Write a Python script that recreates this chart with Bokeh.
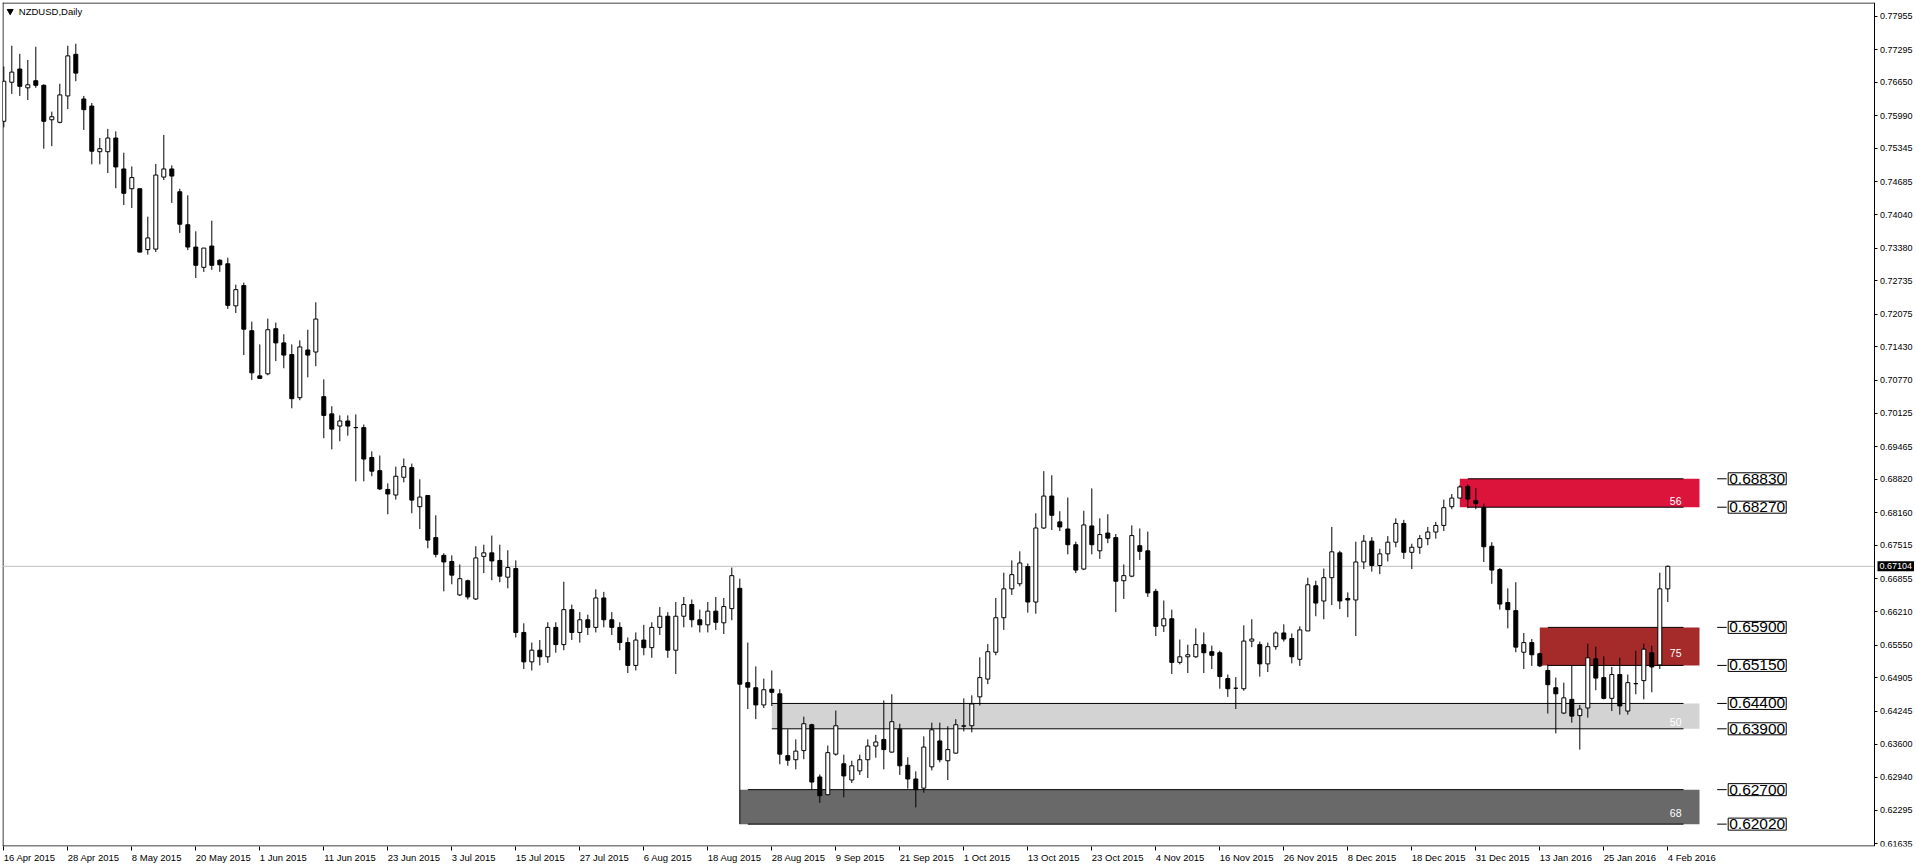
from bokeh.plotting import figure
from bokeh.models import Range1d, FixedTicker, PrintfTickFormatter, ColumnDataSource, LinearAxis, Label
from bokeh.embed import file_html
from bokeh.resources import INLINE
from bokeh.core.properties import value

# ---------------- data (NZDUSD daily, 16 Apr 2015 .. 4 Feb 2016) ----------------
opens = [0.7588, 0.7665, 0.7691, 0.7654, 0.7668, 0.7659, 0.7591, 0.7586, 0.7638, 0.7720,
         0.7632, 0.7618, 0.7528, 0.7528, 0.7555, 0.7494, 0.7455, 0.7455, 0.7335, 0.7336,
         0.7478, 0.7494, 0.7449, 0.7384, 0.7340, 0.7300, 0.7342, 0.7314, 0.7307, 0.7224,
         0.7264, 0.7175, 0.7086, 0.7090, 0.7179, 0.7151, 0.7128, 0.7043, 0.7137, 0.7133,
         0.7045, 0.7011, 0.6987, 0.6997, 0.6984, 0.6984, 0.6925, 0.6899, 0.6862, 0.6851,
         0.6886, 0.6905, 0.6828, 0.6850, 0.6767, 0.6732, 0.6720, 0.6654, 0.6682, 0.6646,
         0.6730, 0.6737, 0.6722, 0.6689, 0.6706, 0.6580, 0.6522, 0.6545, 0.6532, 0.6590,
         0.6556, 0.6625, 0.6580, 0.6605, 0.6590, 0.6648, 0.6605, 0.6590, 0.6560, 0.6515,
         0.6565, 0.6550, 0.6590, 0.6612, 0.6545, 0.6612, 0.6635, 0.6605, 0.6595, 0.6622,
         0.6599, 0.6627, 0.6667, 0.6481, 0.6471, 0.6437, 0.6468, 0.6459, 0.6337, 0.6329,
         0.6347, 0.6398, 0.6295, 0.6260, 0.6340, 0.6321, 0.6289, 0.6307, 0.6329, 0.6356,
         0.6369, 0.6344, 0.6389, 0.6318, 0.6291, 0.6273, 0.6315, 0.6366, 0.6327, 0.6342,
         0.6395, 0.6396, 0.6453, 0.6488, 0.6541, 0.6609, 0.6666, 0.6676, 0.6710, 0.6640,
         0.6786, 0.6849, 0.6798, 0.6784, 0.6753, 0.6705, 0.6790, 0.6741, 0.6776, 0.6767,
         0.6682, 0.6691, 0.6751, 0.6741, 0.6661, 0.6593, 0.6607, 0.6521, 0.6532, 0.6532,
         0.6556, 0.6542, 0.6540, 0.6489, 0.6470, 0.6469, 0.6563, 0.6556, 0.6518, 0.6552,
         0.6579, 0.6568, 0.6527, 0.6583, 0.6672, 0.6642, 0.6688, 0.6737, 0.6647, 0.6644,
         0.6719, 0.6760, 0.6712, 0.6735, 0.6758, 0.6795, 0.6738, 0.6748, 0.6765, 0.6778,
         0.6791, 0.6828, 0.6845, 0.6868, 0.6840, 0.6826, 0.6750, 0.6704, 0.6639, 0.6623,
         0.6541, 0.6560, 0.6538, 0.6505, 0.6471, 0.6421, 0.6448, 0.6416, 0.6431, 0.6528,
         0.6491, 0.6450, 0.6497, 0.6425, 0.6479, 0.6485, 0.6540, 0.6516, 0.6666]
highs = [0.7696, 0.7737, 0.7721, 0.7709, 0.7735, 0.7661, 0.7607, 0.7662, 0.7737, 0.7741,
         0.7638, 0.7624, 0.7555, 0.7573, 0.7568, 0.7526, 0.7499, 0.7455, 0.7400, 0.7504,
         0.7561, 0.7501, 0.7455, 0.7442, 0.7371, 0.7338, 0.7392, 0.7316, 0.7319, 0.7266,
         0.7270, 0.7193, 0.7148, 0.7199, 0.7191, 0.7168, 0.7148, 0.7156, 0.7177, 0.7231,
         0.7079, 0.7026, 0.7008, 0.7008, 0.7010, 0.6990, 0.6937, 0.6929, 0.6874, 0.6907,
         0.6923, 0.6913, 0.6882, 0.6850, 0.6811, 0.6736, 0.6732, 0.6714, 0.6684, 0.6750,
         0.6753, 0.6771, 0.6753, 0.6742, 0.6722, 0.6598, 0.6560, 0.6565, 0.6600, 0.6600,
         0.6680, 0.6635, 0.6620, 0.6615, 0.6665, 0.6660, 0.6620, 0.6600, 0.6570, 0.6580,
         0.6595, 0.6600, 0.6630, 0.6620, 0.6640, 0.6650, 0.6645, 0.6625, 0.6640, 0.6650,
         0.6648, 0.6708, 0.6686, 0.6560, 0.6513, 0.6489, 0.6505, 0.6468, 0.6389, 0.6369,
         0.6414, 0.6400, 0.6300, 0.6357, 0.6426, 0.6339, 0.6327, 0.6339, 0.6369, 0.6378,
         0.6446, 0.6458, 0.6400, 0.6334, 0.6306, 0.6375, 0.6402, 0.6402, 0.6395, 0.6409,
         0.6450, 0.6456, 0.6531, 0.6557, 0.6648, 0.6698, 0.6722, 0.6740, 0.6716, 0.6815,
         0.6898, 0.6890, 0.6819, 0.6846, 0.6759, 0.6820, 0.6864, 0.6805, 0.6813, 0.6774,
         0.6714, 0.6791, 0.6785, 0.6779, 0.6666, 0.6643, 0.6625, 0.6566, 0.6556, 0.6588,
         0.6580, 0.6554, 0.6544, 0.6497, 0.6492, 0.6594, 0.6606, 0.6562, 0.6560, 0.6582,
         0.6596, 0.6578, 0.6592, 0.6688, 0.6682, 0.6706, 0.6788, 0.6741, 0.6659, 0.6759,
         0.6772, 0.6768, 0.6745, 0.6770, 0.6805, 0.6802, 0.6755, 0.6772, 0.6788, 0.6798,
         0.6842, 0.6853, 0.6870, 0.6872, 0.6865, 0.6834, 0.6758, 0.6707, 0.6667, 0.6679,
         0.6579, 0.6567, 0.6540, 0.6517, 0.6491, 0.6481, 0.6515, 0.6437, 0.6558, 0.6552,
         0.6533, 0.6512, 0.6530, 0.6497, 0.6544, 0.6558, 0.6554, 0.6698, 0.6712]
lows = [0.7576, 0.7642, 0.7638, 0.7630, 0.7654, 0.7534, 0.7539, 0.7584, 0.7612, 0.7667,
        0.7571, 0.7503, 0.7503, 0.7486, 0.7456, 0.7423, 0.7417, 0.7330, 0.7325, 0.7330,
        0.7472, 0.7427, 0.7368, 0.7334, 0.7279, 0.7291, 0.7295, 0.7291, 0.7218, 0.7210,
        0.7127, 0.7078, 0.7080, 0.7087, 0.7115, 0.7101, 0.7022, 0.7038, 0.7083, 0.7105,
        0.6963, 0.6941, 0.6957, 0.6968, 0.6878, 0.6878, 0.6888, 0.6861, 0.6813, 0.6842,
        0.6876, 0.6815, 0.6784, 0.6746, 0.6728, 0.6661, 0.6675, 0.6652, 0.6645, 0.6644,
        0.6697, 0.6683, 0.6679, 0.6667, 0.6570, 0.6508, 0.6505, 0.6515, 0.6520, 0.6540,
        0.6545, 0.6565, 0.6560, 0.6575, 0.6580, 0.6590, 0.6575, 0.6545, 0.6500, 0.6505,
        0.6535, 0.6530, 0.6575, 0.6530, 0.6498, 0.6590, 0.6590, 0.6580, 0.6580, 0.6585,
        0.6577, 0.6604, 0.6202, 0.6429, 0.6409, 0.6431, 0.6435, 0.6320, 0.6317, 0.6310,
        0.6330, 0.6270, 0.6244, 0.6259, 0.6337, 0.6255, 0.6283, 0.6299, 0.6293, 0.6333,
        0.6310, 0.6343, 0.6299, 0.6272, 0.6235, 0.6264, 0.6308, 0.6324, 0.6289, 0.6341,
        0.6385, 0.6383, 0.6436, 0.6478, 0.6535, 0.6585, 0.6654, 0.6671, 0.6619, 0.6617,
        0.6784, 0.6782, 0.6780, 0.6734, 0.6697, 0.6703, 0.6734, 0.6725, 0.6756, 0.6620,
        0.6646, 0.6689, 0.6723, 0.6650, 0.6573, 0.6581, 0.6498, 0.6517, 0.6500, 0.6530,
        0.6500, 0.6508, 0.6469, 0.6453, 0.6429, 0.6465, 0.6551, 0.6493, 0.6502, 0.6546,
        0.6562, 0.6519, 0.6514, 0.6583, 0.6612, 0.6606, 0.6634, 0.6626, 0.6610, 0.6573,
        0.6705, 0.6700, 0.6695, 0.6720, 0.6748, 0.6725, 0.6705, 0.6735, 0.6752, 0.6765,
        0.6780, 0.6823, 0.6845, 0.6825, 0.6823, 0.6719, 0.6676, 0.6625, 0.6588, 0.6541,
        0.6508, 0.6514, 0.6512, 0.6420, 0.6381, 0.6419, 0.6402, 0.6349, 0.6412, 0.6466,
        0.6448, 0.6425, 0.6418, 0.6418, 0.6458, 0.6448, 0.6462, 0.6508, 0.6640]
closes = [0.7667, 0.7685, 0.7657, 0.7660, 0.7659, 0.7588, 0.7597, 0.7640, 0.7717, 0.7683,
          0.7611, 0.7529, 0.7534, 0.7555, 0.7498, 0.7446, 0.7477, 0.7330, 0.7358, 0.7482,
          0.7494, 0.7480, 0.7385, 0.7340, 0.7304, 0.7338, 0.7304, 0.7305, 0.7225, 0.7256,
          0.7178, 0.7092, 0.7081, 0.7177, 0.7151, 0.7127, 0.7041, 0.7143, 0.7127, 0.7198,
          0.7008, 0.6981, 0.6997, 0.6987, 0.6984, 0.6922, 0.6898, 0.6863, 0.6853, 0.6888,
          0.6907, 0.6841, 0.6847, 0.6762, 0.6734, 0.6719, 0.6693, 0.6686, 0.6650, 0.6727,
          0.6737, 0.6721, 0.6691, 0.6708, 0.6580, 0.6522, 0.6545, 0.6532, 0.6590, 0.6556,
          0.6625, 0.6580, 0.6605, 0.6590, 0.6648, 0.6605, 0.6590, 0.6560, 0.6515, 0.6565,
          0.6550, 0.6590, 0.6612, 0.6545, 0.6612, 0.6635, 0.6605, 0.6595, 0.6622, 0.6600,
          0.6631, 0.6692, 0.6478, 0.6472, 0.6437, 0.6467, 0.6462, 0.6340, 0.6328, 0.6346,
          0.6400, 0.6285, 0.6258, 0.6343, 0.6396, 0.6297, 0.6317, 0.6329, 0.6356, 0.6364,
          0.6349, 0.6404, 0.6317, 0.6291, 0.6270, 0.6354, 0.6388, 0.6329, 0.6349, 0.6398,
          0.6396, 0.6439, 0.6491, 0.6542, 0.6609, 0.6666, 0.6694, 0.6717, 0.6640, 0.6786,
          0.6849, 0.6811, 0.6788, 0.6753, 0.6703, 0.6792, 0.6753, 0.6773, 0.6766, 0.6681,
          0.6692, 0.6771, 0.6740, 0.6658, 0.6592, 0.6607, 0.6521, 0.6532, 0.6536, 0.6556,
          0.6540, 0.6535, 0.6493, 0.6469, 0.6470, 0.6563, 0.6567, 0.6518, 0.6552, 0.6579,
          0.6567, 0.6532, 0.6585, 0.6674, 0.6638, 0.6688, 0.6739, 0.6642, 0.6644, 0.6719,
          0.6760, 0.6712, 0.6735, 0.6758, 0.6795, 0.6738, 0.6748, 0.6765, 0.6778, 0.6791,
          0.6826, 0.6845, 0.6867, 0.6843, 0.6834, 0.6749, 0.6703, 0.6636, 0.6625, 0.6551,
          0.6560, 0.6536, 0.6514, 0.6477, 0.6459, 0.6451, 0.6415, 0.6429, 0.6530, 0.6490,
          0.6450, 0.6497, 0.6435, 0.6481, 0.6479, 0.6547, 0.6512, 0.6666, 0.67104]

date_labels = ["16 Apr 2015", "28 Apr 2015", "8 May 2015", "20 May 2015", "1 Jun 2015",
               "11 Jun 2015", "23 Jun 2015", "3 Jul 2015", "15 Jul 2015", "27 Jul 2015",
               "6 Aug 2015", "18 Aug 2015", "28 Aug 2015", "9 Sep 2015", "21 Sep 2015",
               "1 Oct 2015", "13 Oct 2015", "23 Oct 2015", "4 Nov 2015", "16 Nov 2015",
               "26 Nov 2015", "8 Dec 2015", "18 Dec 2015", "31 Dec 2015", "13 Jan 2016",
               "25 Jan 2016", "4 Feb 2016"]
bars_per_label = 8

price_ticks = [0.77955, 0.77295, 0.76650, 0.75990, 0.75345, 0.74685, 0.74040, 0.73380,
               0.72735, 0.72075, 0.71430, 0.70770, 0.70125, 0.69465, 0.68820, 0.68160,
               0.67515, 0.66855, 0.66210, 0.65550, 0.64905, 0.64245, 0.63600, 0.62940,
               0.62295, 0.61635]

zone_tops = [0.68830, 0.65900, 0.64400, 0.62700]
zone_bottoms = [0.68270, 0.65150, 0.63900, 0.62020]
zone_start_bar = [182, 192, 96, 92]
zone_line_start_bar = [183, 193, 96, 93]
zone_colors = ["#DC143C", "#A52A2A", "#D3D3D3", "#696969"]
zone_names = ["56", "75", "50", "68"]
zone_name_y = [0.68402, 0.65385, 0.64030, 0.62230]
last_price = 0.67104
symbol_title = "NZDUSD,Daily"

# ---------------- layout constants ----------------
PX_PER_BAR = 8.0
BAR0_PX = 3.3                       # pixel x of the first bar
CANVAS_W, FRAME_H = 1914, 844
FRAME_L, FRAME_T = 2, 2             # frame origin in pixels
FRAME_R = CANVAS_W                  # frame spans to the right edge; price axis sits inside it
AXIS_PX = 1873.5                    # pixel x of the price axis line
PX_PER_PRICE = 5071.0
PRICE_AT_Y0 = 0.78262               # price at pixel row 0


def bar_at(px):
    return (px - BAR0_PX) / PX_PER_BAR


def price_at(py):
    return PRICE_AT_Y0 - py / PX_PER_PRICE


X_START, X_END = bar_at(FRAME_L), bar_at(FRAME_R)
Y_START, Y_END = price_at(FRAME_T + FRAME_H), price_at(FRAME_T)
AXIS_X = bar_at(AXIS_PX)
ZONE_RIGHT = bar_at(1699)
ZONE_LINE_END = bar_at(1683)
ZONE_NAME_X = bar_at(1681)
TAG_DASH = (bar_at(1716.7), bar_at(1726.2))
TAG_X = bar_at(1727.7)
FONT = "Liberation Sans"
AXIS_FONT_SIZE = 9.5

# Arial-like advance widths (per em) to left-align date labels at their ticks
_W = {' ': .278, 'A': .667, 'p': .556, 'r': .333, 'M': .833, 'a': .556, 'y': .5, 'J': .5,
      'u': .556, 'n': .556, 'l': .222, 'g': .556, 'S': .667, 'e': .556, 'O': .778, 'c': .5,
      't': .278, 'N': .722, 'o': .556, 'v': .5, 'D': .722, 'F': .611, 'b': .556}


def text_px(s, size):
    return sum(_W.get(ch, .556) for ch in s) * size


n = len(opens)
xs = list(range(n))
up = [c >= o for o, c in zip(opens, closes)]

src_up = ColumnDataSource(dict(
    x=[x for x, u in zip(xs, up) if u],
    top=[c for c, u in zip(closes, up) if u],
    bottom=[o for o, u in zip(opens, up) if u]))
src_dn = ColumnDataSource(dict(
    x=[x for x, u in zip(xs, up) if not u],
    top=[o for o, u in zip(opens, up) if not u],
    bottom=[c for c, u in zip(closes, up) if not u]))
src_wick = ColumnDataSource(dict(x=xs, high=highs, low=lows))

p = figure(width=CANVAS_W, frame_height=FRAME_H,
           x_range=Range1d(X_START, X_END), y_range=Range1d(Y_START, Y_END),
           y_axis_location="right", output_backend="svg", toolbar_location=None,
           min_border_left=FRAME_L, min_border_top=FRAME_T, min_border_right=0, min_border_bottom=0,
           background_fill_color="white", border_fill_color="white")
p.grid.visible = False
p.outline_line_color = None

# chart border (left, top, bottom); the price axis line closes it on the right
p.segment(x0=[bar_at(FRAME_L + 0.5), X_START, X_START],
          y0=[Y_START, price_at(FRAME_T + 0.5), price_at(FRAME_T + FRAME_H - 0.5)],
          x1=[bar_at(FRAME_L + 0.5), AXIS_X, AXIS_X],
          y1=[Y_END, price_at(FRAME_T + 0.5), price_at(FRAME_T + FRAME_H - 0.5)],
          line_color="black", line_width=1)

# zones (background rectangles)
p.quad(left=zone_start_bar, right=[ZONE_RIGHT] * 4, top=zone_tops, bottom=zone_bottoms,
       fill_color=zone_colors, line_color=None)

# current price line
p.segment(x0=[X_START], y0=[last_price], x1=[AXIS_X], y1=[last_price],
          line_color="#C0C0C0", line_width=1)

# zone edge lines
edge_y = zone_tops + zone_bottoms
edge_x0 = zone_line_start_bar + zone_line_start_bar
p.segment(x0=edge_x0, y0=edge_y, x1=[ZONE_LINE_END] * len(edge_y), y1=edge_y,
          line_color="black", line_width=1)

# candles
p.segment(x0="x", y0="low", x1="x", y1="high", source=src_wick, line_color="black", line_width=1)
p.vbar(x="x", width=0.5, top="top", bottom="bottom", source=src_dn,
       fill_color="black", line_color="black", line_width=1)
p.vbar(x="x", width=0.5, top="top", bottom="bottom", source=src_up,
       fill_color="white", line_color="black", line_width=1)

# zone numbers
p.text(x=[ZONE_NAME_X] * 4, y=zone_name_y, text=zone_names,
       text_color="white", text_font=value(FONT), text_font_size="10.5px",
       text_align="right", text_baseline="middle")

# right-side price tags
tag_prices = zone_tops + zone_bottoms
p.segment(x0=[TAG_DASH[0]] * len(tag_prices), y0=tag_prices,
          x1=[TAG_DASH[1]] * len(tag_prices), y1=tag_prices, line_color="black", line_width=1)
p.text(x=[TAG_X] * len(tag_prices), y=tag_prices, text=["%.5f" % v for v in tag_prices],
       text_color="black", text_font=value(FONT), text_font_size="15.5px",
       text_align="left", text_baseline="middle",
       background_fill_color="white", border_line_color="black", border_line_width=1,
       padding=1)

# title
p.scatter(x=[bar_at(9.7)], y=[price_at(10.7)], marker="inverted_triangle", size=6,
          fill_color="black", line_color="black")
p.text(x=[bar_at(18.3)], y=[price_at(10.7)], text=[symbol_title], text_color="black",
       text_font=value(FONT), text_font_size="9.5px", text_align="left", text_baseline="middle")

# ---------------- axes ----------------
yax = p.yaxis[0]
yax.fixed_location = AXIS_X
yax.ticker = FixedTicker(ticks=price_ticks, minor_ticks=[])
yax.formatter = PrintfTickFormatter(format="%.5f")
yax.major_tick_out = 3
yax.major_tick_in = 0
yax.minor_tick_out = 0
yax.minor_tick_in = 0
yax.major_label_standoff = 3
yax.major_label_text_font = FONT
yax.major_label_text_font_size = "9px"
yax.major_label_text_color = "black"
yax.axis_line_color = "black"
yax.major_tick_line_color = "black"

# current price tag on the price axis
p.add_layout(Label(x=bar_at(AXIS_PX + 3.5), y=last_price, text="%.5f" % last_price,
                   text_color="white", text_font=FONT, text_font_size="9px",
                   text_align="left", text_baseline="middle",
                   background_fill_color="black", padding=2))

# tick marks of the date axis (at the bars)
date_ticks = [i * bars_per_label for i in range(len(date_labels))]
xax = p.xaxis[0]
xax.ticker = FixedTicker(ticks=date_ticks, minor_ticks=[])
xax.major_label_overrides = {t: "" for t in date_ticks}
xax.major_label_text_color = None
xax.major_label_text_font_size = "1px"
xax.major_label_standoff = 0
xax.major_tick_out = 4
xax.major_tick_in = 0
xax.minor_tick_out = 0
xax.minor_tick_in = 0
xax.axis_line_color = None
xax.major_tick_line_color = "black"

# date labels, each starting at its tick (MT4 style)
label_pos = [t + (text_px(s, AXIS_FONT_SIZE) / 2.0) / PX_PER_BAR for t, s in zip(date_ticks, date_labels)]
lab_ax = LinearAxis(ticker=FixedTicker(ticks=label_pos, minor_ticks=[]),
                    major_label_overrides={pos: s for pos, s in zip(label_pos, date_labels)})
lab_ax.axis_line_color = None
lab_ax.major_tick_line_color = None
lab_ax.major_tick_out = 0
lab_ax.major_tick_in = 0
lab_ax.minor_tick_out = 0
lab_ax.minor_tick_in = 0
lab_ax.major_label_standoff = 1
lab_ax.major_label_text_font = FONT
lab_ax.major_label_text_font_size = "%gpx" % AXIS_FONT_SIZE
lab_ax.major_label_text_color = "black"
p.add_layout(lab_ax, "below")

open("out.html", "w").write(file_html(p, INLINE))
